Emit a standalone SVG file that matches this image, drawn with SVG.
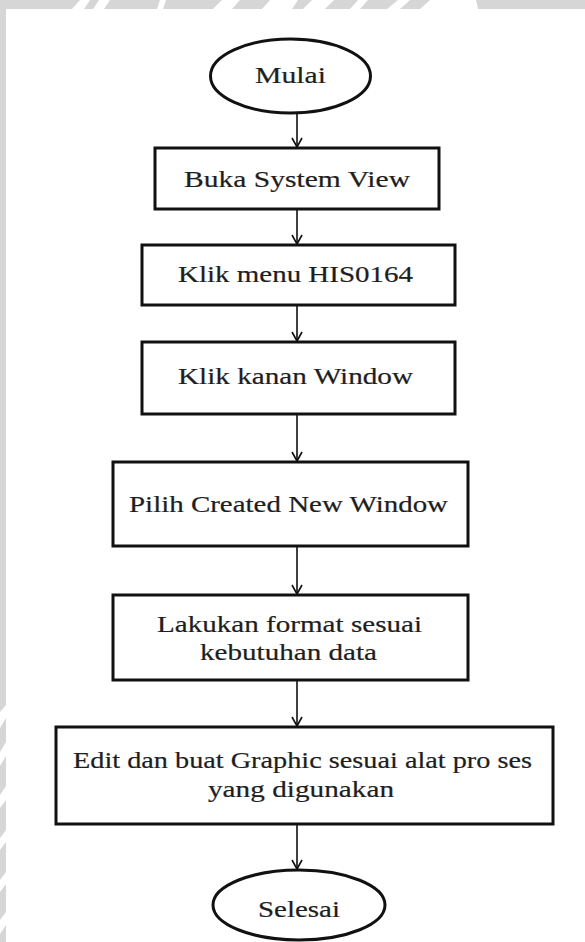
<svg xmlns="http://www.w3.org/2000/svg" width="585" height="942" viewBox="0 0 585 942">
  <style>
    .node { fill: #ffffff; stroke: #111111; stroke-width: 3; }
    .lbl { font-family: "Liberation Serif", "Times New Roman", serif; font-size: 23px; fill: #1e1e1e; stroke: #1e1e1e; stroke-width: 0.2; }
    .conn { stroke: #111111; stroke-width: 1.6; fill: none; }
    .wm { fill: #ffffff; }
  </style>
  <defs>
    <marker id="arrow" markerUnits="userSpaceOnUse" markerWidth="14" markerHeight="14" viewBox="0 0 14 14" refX="12" refY="7" orient="auto">
      <path d="M3,2 L12,7 L3,12" fill="none" stroke="#111111" stroke-width="1.6"/>
    </marker>
  </defs>

  <rect x="0" y="0" width="585" height="942" fill="#ffffff"/>
  <g id="frame">
    <rect x="0" y="0" width="585" height="9" fill="#d6d6d6"/>
    <rect x="0" y="0" width="6" height="942" fill="#d6d6d6"/>
    <polygon class="wm" points="72,9 80,0 90,0 84,9"/>
    <polygon class="wm" points="93,9 99,0 110,0 104,9"/>
    <polygon class="wm" points="157,9 160,0 166,0 163,9"/>
    <polygon class="wm" points="213,9 222,0 240,0 232,9"/>
    <polygon class="wm" points="262,9 270,0 298,0 292,9"/>
    <polygon class="wm" points="303,9 312,0 334,0 325,9"/>
    <polygon class="wm" points="350,9 358,0 368,0 360,9"/>
    <polygon class="wm" points="387,9 398,0 410,0 400,9"/>
    <polygon class="wm" points="420,9 430,0 476,0 478,9"/>
    <polygon class="wm" points="0,712 6,705 6,718 0,728"/>
    <polygon class="wm" points="0,752 6,742 6,756 0,766"/>
    <polygon class="wm" points="0,795 6,786 6,800 0,808"/>
    <polygon class="wm" points="0,838 6,830 6,842 0,850"/>
    <polygon class="wm" points="0,880 6,872 6,884 0,892"/>
    <polygon class="wm" points="0,920 6,912 6,925 0,934"/>
  </g>

  <g id="connectors">
    <line class="conn" x1="297" y1="113" x2="297" y2="147" marker-end="url(#arrow)"/>
    <line class="conn" x1="297" y1="209" x2="297" y2="244" marker-end="url(#arrow)"/>
    <line class="conn" x1="297" y1="305" x2="297" y2="341" marker-end="url(#arrow)"/>
    <line class="conn" x1="297" y1="414" x2="297" y2="461" marker-end="url(#arrow)"/>
    <line class="conn" x1="297" y1="546" x2="297" y2="594" marker-end="url(#arrow)"/>
    <line class="conn" x1="297" y1="680" x2="297" y2="726" marker-end="url(#arrow)"/>
    <line class="conn" x1="297" y1="824" x2="297" y2="869" marker-end="url(#arrow)"/>
  </g>

  <g id="mulai">
    <ellipse class="node" cx="290.5" cy="76" rx="80" ry="37"/>
    <text class="lbl" x="255" y="83" textLength="71" lengthAdjust="spacingAndGlyphs">Mulai</text>
  </g>
  <g id="buka-system-view">
    <rect class="node" x="155" y="148" width="284" height="61"/>
    <text class="lbl" x="184" y="187" textLength="226" lengthAdjust="spacingAndGlyphs">Buka System View</text>
  </g>
  <g id="klik-menu">
    <rect class="node" x="142" y="245" width="313" height="60"/>
    <text class="lbl" x="178" y="282" textLength="235" lengthAdjust="spacingAndGlyphs">Klik menu HIS0164</text>
  </g>
  <g id="klik-kanan">
    <rect class="node" x="142" y="342" width="313" height="72"/>
    <text class="lbl" x="178" y="384" textLength="235" lengthAdjust="spacingAndGlyphs">Klik kanan Window</text>
  </g>
  <g id="pilih-created">
    <rect class="node" x="113" y="462" width="355" height="84"/>
    <text class="lbl" x="129" y="512" textLength="319" lengthAdjust="spacingAndGlyphs">Pilih Created New Window</text>
  </g>
  <g id="lakukan-format">
    <rect class="node" x="113" y="595" width="355" height="85"/>
    <text class="lbl" x="157" y="632" textLength="265" lengthAdjust="spacingAndGlyphs">Lakukan format sesuai</text>
    <text class="lbl" x="200" y="660" textLength="177" lengthAdjust="spacingAndGlyphs">kebutuhan data</text>
  </g>
  <g id="edit-graphic">
    <rect class="node" x="56" y="727" width="497" height="97"/>
    <text class="lbl" x="73" y="768" textLength="459" lengthAdjust="spacingAndGlyphs">Edit dan buat Graphic sesuai alat pro ses</text>
    <text class="lbl" x="208" y="797" textLength="186" lengthAdjust="spacingAndGlyphs">yang digunakan</text>
  </g>
  <g id="selesai">
    <ellipse class="node" cx="299" cy="905" rx="86" ry="35"/>
    <text class="lbl" x="258" y="917" textLength="82" lengthAdjust="spacingAndGlyphs">Selesai</text>
  </g>
</svg>
